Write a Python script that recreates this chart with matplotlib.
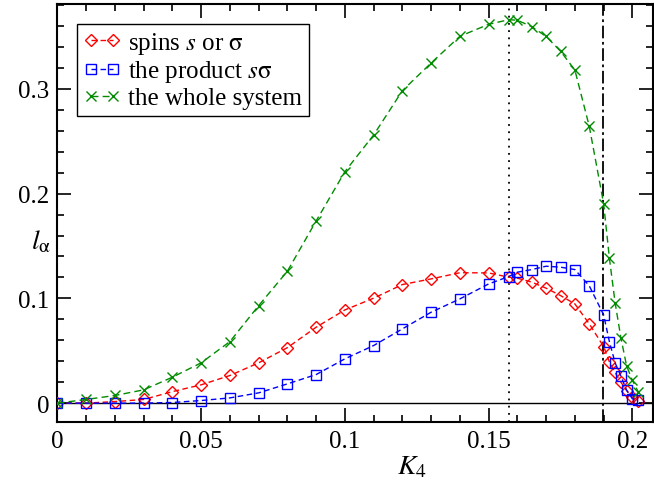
import matplotlib
matplotlib.use("Agg")
import matplotlib.pyplot as plt
from matplotlib.ticker import MultipleLocator, FuncFormatter

K4 = [0.0, 0.01, 0.02, 0.03, 0.04, 0.05, 0.06, 0.07, 0.08, 0.09, 0.10,
      0.11, 0.12, 0.13, 0.14, 0.15, 0.157, 0.16, 0.165, 0.17, 0.175,
      0.18, 0.185, 0.19, 0.192, 0.194, 0.196, 0.198, 0.20, 0.202]

spins = [0.0, 0.0, 0.0015, 0.0035, 0.011, 0.0175, 0.0264, 0.0385, 0.053, 0.0725, 0.089,
         0.1002, 0.1132, 0.1186, 0.1245, 0.1243, 0.1202, 0.1193, 0.1155, 0.1097, 0.1027,
         0.0947, 0.0757, 0.054, 0.0395, 0.0293, 0.02, 0.012, 0.0057, 0.002]

product = [0.0, 0.0, 0.0, 0.0, 0.0006, 0.0025, 0.005, 0.0098, 0.0184, 0.0273, 0.0423,
           0.055, 0.0709, 0.0868, 0.0995, 0.1138, 0.1208, 0.125, 0.1275, 0.1307, 0.1298,
           0.1275, 0.112, 0.0843, 0.0588, 0.0385, 0.0258, 0.0124, 0.0041, 0.0029]

whole = [0.0, 0.0035, 0.0073, 0.0127, 0.0248, 0.0385, 0.0588, 0.0931, 0.126, 0.174, 0.221,
         0.256, 0.2983, 0.3247, 0.3502, 0.3616, 0.366, 0.3655, 0.3594, 0.350, 0.336,
         0.318, 0.2643, 0.1905, 0.1386, 0.0958, 0.0625, 0.0355, 0.0218, 0.011]

labels = [r"spins $s$ or $\mathrm{\sigma}$", r"the product $s\mathrm{\sigma}$", "the whole system"]
K_dotted = 0.157
K_dashdot = 0.1898

plt.rcParams['font.family'] = ['Liberation Serif', 'DejaVu Serif']
plt.rcParams['mathtext.fontset'] = 'stix'

fig = plt.figure(figsize=(6.54, 4.81), dpi=100)
ax = fig.add_axes([0.0879, 0.1206, 0.9111, 0.869])

ax.axhline(0, color='black', lw=1.0, zorder=1)
ax.axvline(K_dotted, color='black', lw=1.3, ls=(0, (1, 3)), zorder=1)
ax.axvline(K_dashdot, color='black', lw=1.3, ls=(0, (7, 2, 1.5, 2)), zorder=1)

ax.plot(K4, spins, color='#ff0000', ls=(0, (4, 2.5)), lw=1.0, marker='D', ms=6.5,
        mfc='none', mec='#ff0000', mew=1.0, label=labels[0], zorder=3)
ax.plot(K4, product, color='#0000ff', ls=(0, (4, 2.5)), lw=1.0, marker='s', ms=7.5,
        mfc='none', mec='#0000ff', mew=1.0, label=labels[1], zorder=3)
ax.plot(K4, whole, color='#008c00', ls=(0, (5, 3)), lw=1.0, marker='x', ms=7,
        mec='#008c00', mew=1.0, label=labels[2], zorder=3)

ax.set_xlim(0, 0.2073)
ax.set_ylim(-0.018, 0.381)

ax.xaxis.set_major_locator(MultipleLocator(0.05))
ax.xaxis.set_minor_locator(MultipleLocator(0.01))
ax.yaxis.set_major_locator(MultipleLocator(0.1))
ax.yaxis.set_minor_locator(MultipleLocator(0.02))

def fmt(v, pos):
    s = f"{v:.2f}".rstrip('0').rstrip('.')
    if s in ('-0',):
        s = '0'
    return s
ax.xaxis.set_major_formatter(FuncFormatter(fmt))
ax.yaxis.set_major_formatter(FuncFormatter(fmt))

ax.tick_params(which='both', direction='in', top=True, right=True, labelsize=18, width=1.2)
ax.tick_params(which='major', length=10, pad=6)
ax.tick_params(which='minor', length=5)
for sp in ax.spines.values():
    sp.set_linewidth(1.5)

ax.set_xlabel(r"$K_4$", fontsize=20)
ax.xaxis.set_label_coords(0.595, -0.075)
ax.set_ylabel(r"$l_{\mathrm{\alpha}}$", fontsize=20, rotation=0)
ax.yaxis.set_label_coords(-0.028, 0.40)

leg = ax.legend(loc='upper left', bbox_to_anchor=(0.033, 0.953), fontsize=18,
                frameon=True, fancybox=False, edgecolor='black', framealpha=1,
                numpoints=2, handlelength=1.5, handletextpad=0.3, borderpad=0.25,
                labelspacing=0.1, borderaxespad=0)
leg.get_frame().set_linewidth(1.0)

fig.savefig("out.png", dpi=100)
